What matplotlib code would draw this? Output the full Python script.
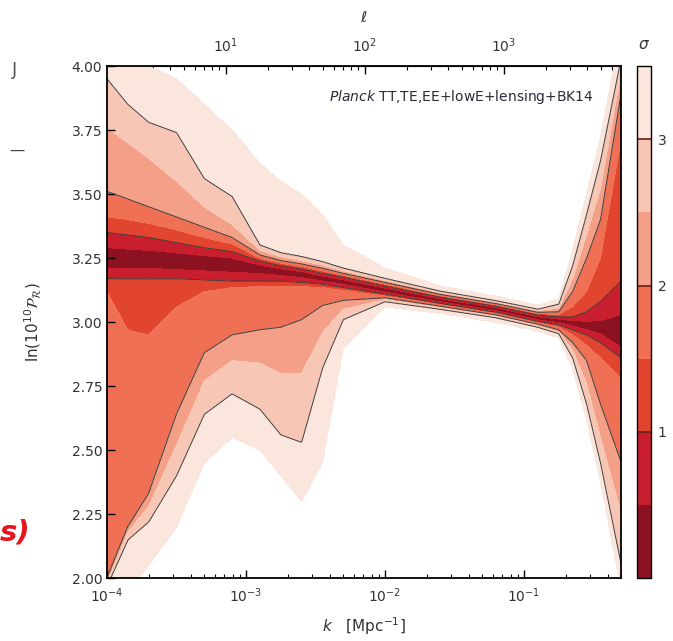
import numpy as np
import matplotlib
matplotlib.use('Agg')
import matplotlib.pyplot as plt
from matplotlib.ticker import FormatStrFormatter, FixedLocator

# columns in log10(k / Mpc^-1) where the band edges were read
logk = [-4.0, -3.85, -3.7, -3.5, -3.3, -3.1, -2.9, -2.75, -2.6, -2.45,
        -2.3, -2.0, -1.6, -1.2, -0.9, -0.75, -0.65, -0.55, -0.45, -0.3]

# best-fit ln(10^10 P_R) in each column
centre = [3.25, 3.245, 3.24, 3.235, 3.225, 3.215, 3.205, 3.195, 3.185, 3.17,
          3.155, 3.125, 3.085, 3.05, 3.015, 3.005, 2.995, 2.985, 2.975, 2.965]

# ln(10^10 P_R) where each sigma level is crossed above the centre
up_05 = [3.29, 3.285, 3.28, 3.27, 3.26, 3.25, 3.222, 3.208, 3.197, 3.18,
         3.165, 3.133, 3.091, 3.056, 3.021, 3.012, 3.006, 3.003, 3.005, 3.03]
up_10 = [3.35, 3.34, 3.33, 3.31, 3.29, 3.275, 3.238, 3.22, 3.207, 3.19,
         3.175, 3.14, 3.097, 3.061, 3.027, 3.02, 3.02, 3.04, 3.08, 3.16]
up_15 = [3.41, 3.40, 3.385, 3.36, 3.33, 3.305, 3.25, 3.23, 3.217, 3.2,
         3.183, 3.148, 3.102, 3.067, 3.033, 3.03, 3.06, 3.12, 3.25, 3.72]
up_20 = [3.51, 3.48, 3.45, 3.41, 3.37, 3.33, 3.262, 3.24, 3.227, 3.21,
         3.19, 3.155, 3.108, 3.072, 3.038, 3.04, 3.12, 3.25, 3.40, 3.90]
up_25 = [3.76, 3.70, 3.64, 3.55, 3.45, 3.38, 3.28, 3.255, 3.24, 3.222,
         3.2, 3.162, 3.114, 3.077, 3.044, 3.055, 3.17, 3.34, 3.52, 3.98]
up_30 = [3.95, 3.85, 3.78, 3.74, 3.56, 3.49, 3.30, 3.27, 3.255, 3.235,
         3.21, 3.17, 3.12, 3.083, 3.05, 3.07, 3.22, 3.42, 3.63, 4.03]
up_35 = [4.15, 4.05, 4.0, 3.95, 3.85, 3.75, 3.62, 3.55, 3.5, 3.42,
         3.3, 3.21, 3.14, 3.10, 3.065, 3.09, 3.28, 3.5, 3.72, 4.15]

# and below the centre
lo_05 = [3.21, 3.21, 3.21, 3.205, 3.2, 3.195, 3.19, 3.182, 3.174, 3.161,
         3.148, 3.117, 3.079, 3.044, 3.009, 2.998, 2.985, 2.97, 2.955, 2.90]
lo_10 = [3.17, 3.17, 3.17, 3.17, 3.165, 3.16, 3.16, 3.16, 3.155, 3.148,
         3.135, 3.11, 3.073, 3.039, 3.003, 2.99, 2.97, 2.95, 2.92, 2.86]
lo_15 = [3.12, 2.97, 2.95, 3.06, 3.12, 3.135, 3.14, 3.14, 3.14, 3.135,
         3.125, 3.102, 3.068, 3.033, 2.997, 2.98, 2.95, 2.91, 2.86, 2.78]
lo_20 = [2.0, 2.2, 2.33, 2.64, 2.88, 2.95, 2.97, 2.98, 3.01, 3.065,
         3.085, 3.095, 3.062, 3.028, 2.992, 2.97, 2.92, 2.85, 2.68, 2.45]
lo_25 = [1.98, 2.18, 2.28, 2.52, 2.77, 2.85, 2.84, 2.8, 2.8, 2.96,
         3.05, 3.088, 3.056, 3.023, 2.986, 2.96, 2.89, 2.76, 2.55, 2.25]
lo_30 = [1.97, 2.15, 2.22, 2.4, 2.64, 2.72, 2.66, 2.56, 2.53, 2.82,
         3.01, 3.08, 3.05, 3.017, 2.98, 2.955, 2.86, 2.68, 2.45, 2.05]
lo_35 = [1.9, 1.95, 2.05, 2.2, 2.45, 2.55, 2.5, 2.4, 2.3, 2.45,
         2.9, 3.06, 3.035, 3.0, 2.965, 2.94, 2.82, 2.62, 2.38, 1.95]

sig_levels = [0, 0.5, 1.0, 1.5, 2.0, 2.5, 3.0, 3.5]
band_colors = ['#8c1222', '#c81e2e', '#e2452f', '#ef7055',
               '#f4a088', '#f8c6b4', '#fbe6dd']
line_levels = [1, 2, 3]
ell_ticks = [10, 100, 1000]
ell_per_k = 14000.0   # rough l <-> k conversion for the top axis

# sigma field: linear in y between the edges of each column,
# edges themselves linear in log k between columns
edges = [lo_35, lo_30, lo_25, lo_20, lo_15, lo_10, lo_05, centre,
         up_05, up_10, up_15, up_20, up_25, up_30, up_35]
edge_sig = [3.5, 3.0, 2.5, 2.0, 1.5, 1.0, 0.5, 0.0,
            0.5, 1.0, 1.5, 2.0, 2.5, 3.0, 3.5]

lk = np.linspace(-4.0, np.log10(0.5), 700)
yy = np.linspace(1.9, 4.1, 700)
knots = np.array([np.interp(lk, logk, e) for e in edges])
S = np.empty((len(yy), len(lk)))
for j in range(len(lk)):
    ky = np.concatenate([[0.0], knots[:, j], [6.0]])
    ks = np.concatenate([[9.0], edge_sig, [9.0]])
    S[:, j] = np.interp(yy, ky, ks)

K, Y = np.meshgrid(10 ** lk, yy)

fig = plt.figure(figsize=(6.73, 6.41), dpi=100)
ax = fig.add_axes([0.159, 0.098, 0.764, 0.799])

cf = ax.contourf(K, Y, S, levels=sig_levels, colors=band_colors)
ax.contour(K, Y, S, levels=line_levels, colors='#3c3c3c', linewidths=0.7)

ax.set_xscale('log')
ax.set_xlim(1e-4, 0.5)
ax.set_ylim(2.0, 4.0)
ax.set_yticks([2.0, 2.25, 2.5, 2.75, 3.0, 3.25, 3.5, 3.75, 4.0])
ax.yaxis.set_major_formatter(FormatStrFormatter('%.2f'))
ax.tick_params(which='both', direction='in', top=False, right=False,
               labelsize=10, labelcolor='#333333')
ax.tick_params(axis='x', pad=6)
ax.tick_params(which='major', length=6, width=1)
ax.tick_params(which='minor', length=3, width=0.8)
for s in ax.spines.values():
    s.set_linewidth(1.3)

ax.set_xlabel(r'$k\quad[\mathrm{Mpc}^{-1}]$', fontsize=11, color='#333333',
              labelpad=7)
ax.set_ylabel(r'$\ln(10^{10}\mathcal{P}_{\mathcal{R}})$', fontsize=11,
              color='#333333', labelpad=20)

top = ax.secondary_xaxis('top', functions=(lambda k: k * ell_per_k,
                                           lambda l: l / ell_per_k))
top.set_xticks(ell_ticks, [r'$10^{%d}$' % int(np.log10(t)) for t in ell_ticks])
ell_minor = [m * t for t in [1, 10, 100, 1000] for m in range(2, 10)
             if 1.4 < m * t < 7000]
top.xaxis.set_minor_locator(FixedLocator(ell_minor))
top.tick_params(which='both', direction='in', labelsize=10,
                labelcolor='#333333', pad=8)
top.tick_params(which='major', length=6, width=1)
top.tick_params(which='minor', length=3, width=0.8)
top.set_xlabel(r'$\ell$', fontsize=11, color='#333333', labelpad=10)

ax.text(0.946, 0.94, r'$\it{Planck}$ TT,TE,EE+lowE+lensing+BK14',
        transform=ax.transAxes, ha='right', va='center', fontsize=10,
        color='#2a2a3a')

cax = fig.add_axes([0.9465, 0.098, 0.0208, 0.799])
cb = fig.colorbar(cf, cax=cax, ticks=line_levels)
cb.ax.tick_params(length=0, labelsize=10, labelcolor='#333333', pad=5)
for v in line_levels:
    cax.axhline(v, color='#6b1d14', lw=1.2)
cb.outline.set_linewidth(1)
cax.set_title(r'$\sigma$', fontsize=11, color='#333333', pad=12)

# bits of neighbouring slide content
fig.text(0.018, 1 - 70 / 641, 'J', fontsize=13, color='#555555',
         ha='left', va='center')
fig.text(0.014, 1 - 150 / 641, '\u2014', fontsize=11, color='#444444',
         ha='left', va='center')
fig.text(0.0, 1 - 532 / 641, 's)', fontsize=21, color='#e8141c',
         fontweight='bold', style='italic', ha='left', va='center')

fig.savefig('out.png', dpi=100)
